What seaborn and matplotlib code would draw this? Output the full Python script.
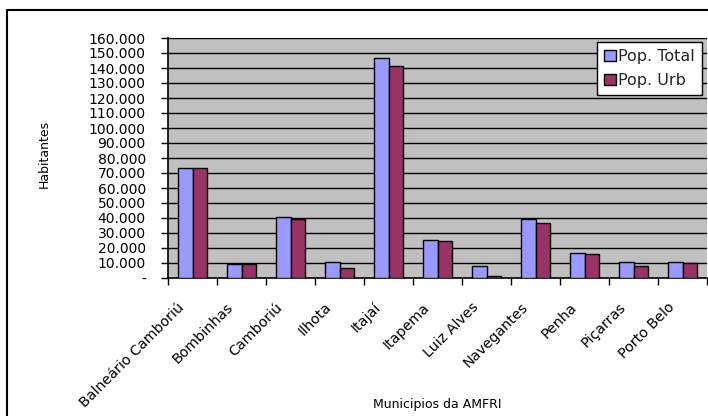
import matplotlib
matplotlib.use("Agg")
import matplotlib.pyplot as plt
from matplotlib.lines import Line2D
from matplotlib.ticker import FixedLocator, FuncFormatter
from matplotlib.transforms import ScaledTranslation
import seaborn as sns
import pandas as pd

municipios = ["Balneário Camboriú", "Bombinhas", "Camboriú", "Ilhota", "Itajaí",
              "Itapema", "Luiz Alves", "Navegantes", "Penha", "Piçarras", "Porto Belo"]
pop_total = [73300, 9100, 40900, 10700, 146400, 25600, 8200, 39400, 16900, 10700, 10700]
pop_urb = [73200, 9100, 39200, 6400, 141300, 25000, 1300, 36500, 15800, 8200, 9800]
series = ["Pop. Total", "Pop. Urb"]
y_ticks = list(range(0, 160001, 10000))

df = pd.concat([
    pd.DataFrame({"Municipio": municipios, "Serie": series[0], "Habitantes": pop_total}),
    pd.DataFrame({"Municipio": municipios, "Serie": series[1], "Habitantes": pop_urb}),
])

sns.set_theme(style="white")
plt.rcParams["font.family"] = ["DejaVu Sans"]

W, H = 708, 416
fig = plt.figure(figsize=(W / 100, H / 100), dpi=100)
fig.patch.set_facecolor("white")
ax = fig.add_axes([168 / W, 1 - 278 / H, (707 - 168) / W, (278 - 38) / H])

sns.barplot(data=df, x="Municipio", y="Habitantes", hue="Serie",
            palette=["#9999FF", "#993366"], width=0.6, gap=0,
            edgecolor="black", linewidth=1.0, saturation=1, ax=ax, zorder=3)

ax.set_facecolor("#C0C0C0")
ax.set_xlim(-0.5, len(municipios) - 0.5)
ax.set_ylim(0, 160000)

# horizontal gridlines
for v in y_ticks[1:]:
    ax.axhline(v, color="black", lw=1.0, zorder=1)

ax.yaxis.set_major_locator(FixedLocator(y_ticks))
ax.yaxis.set_major_formatter(FuncFormatter(
    lambda v, p: "-" if v == 0 else f"{int(v):,}".replace(",", ".")))
ax.tick_params(axis="y", direction="out", length=5, width=1, color="black",
               left=True, labelsize=10, pad=11, labelcolor="black")

# category labels at centres, ticks at category boundaries
ax.set_xticks(range(len(municipios)))
ax.set_xticklabels(municipios, rotation=45, ha="right", va="top",
                   rotation_mode="anchor", fontsize=10.3, color="black")
ax.set_xticks([i - 0.5 for i in range(len(municipios) + 1)], minor=True)
ax.tick_params(axis="x", which="major", length=0, pad=0)
ax.tick_params(axis="x", which="minor", direction="out", length=5, width=1,
               color="black", bottom=True)
shift = ScaledTranslation(-15 / 100, -22 / 100, fig.dpi_scale_trans)
for lbl in ax.get_xticklabels():
    lbl.set_transform(lbl.get_transform() + shift)

for side in ["top", "right"]:
    ax.spines[side].set_visible(False)
for side in ["left", "bottom"]:
    ax.spines[side].set_visible(True)
    ax.spines[side].set_color("black")
    ax.spines[side].set_linewidth(1.2)

ax.set_ylabel("Habitantes", fontsize=9, color="black", labelpad=0)
ax.yaxis.set_label_coords(-0.217, 0.515, transform=ax.transAxes)
ax.set_xlabel("Municipios da AMFRI", fontsize=9, color="black")
ax.xaxis.set_label_coords(0.5, -0.5)

handles, labels = ax.get_legend_handles_labels()
leg = ax.legend(handles, labels, loc="upper right",
                bbox_to_anchor=(702 / W, 1 - 42 / H), bbox_transform=fig.transFigure,
                frameon=True, fancybox=False, framealpha=1, edgecolor="black",
                fontsize=11.5, handlelength=0.7, handleheight=0.7, handletextpad=0.15,
                labelspacing=0.55, borderpad=0.45, borderaxespad=0)
leg.get_frame().set_linewidth(1.0)
leg.set_zorder(10)

# outer chart border
fig.add_artist(Line2D([7 / W, 7 / W], [0, 1 - 10 / H], color="black", lw=1.5,
                      transform=fig.transFigure))
fig.add_artist(Line2D([7 / W, 1], [1 - 10 / H, 1 - 10 / H], color="black", lw=1.5,
                      transform=fig.transFigure))

fig.savefig("out.png", dpi=100)
